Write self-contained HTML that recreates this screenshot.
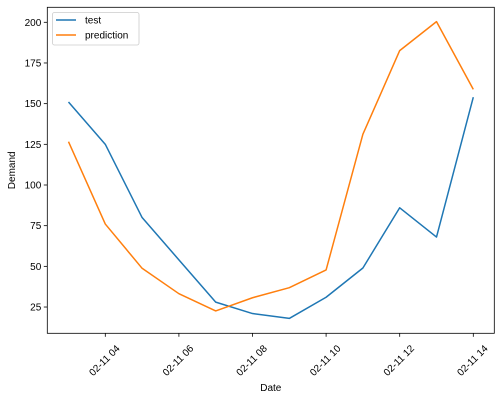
<!DOCTYPE html>
<html><head><meta charset="utf-8"><style>
body{margin:0;background:#fff;}
svg{display:block;font-family:"Liberation Sans","DejaVu Sans",sans-serif;}
</style></head><body>
<svg id="chart" width="500" height="400" viewBox="0 0 500 400"></svg>
<script>
const hours = [3,4,5,6,7,8,9,10,11,12,13,14];
const testValues = [151,125,80,54,28,21,18,31,49,86,68,154];
const predictionValues = [126.6,76,48.8,33.2,22.6,30.7,36.9,47.8,131.2,182.6,200.4,158.8];
const yTicks = [25,50,75,100,125,150,175,200];
const xTicks = [4,6,8,10,12,14];
const seriesNames = ["test","prediction"];

const NS="http://www.w3.org/2000/svg";
const svg=document.getElementById('chart');
const L=47.3,R=494.3,T=7.3,B=333.3;
const xScale=h=>105.3+(h-4)*36.8;
const yScale=v=>22.3+(200-v)*1.627;
function mk(tag,attrs,parent){const e=document.createElementNS(NS,tag);for(const k in attrs)e.setAttribute(k,attrs[k]);(parent||svg).appendChild(e);return e;}

const frame=mk('rect',{x:L,y:T,width:R-L,height:B-T,fill:'none',stroke:'#000','stroke-width':0.8});



yTicks.forEach(v=>{
  const y=yScale(v);
  const t=mk('line',{x1:L-3.5,x2:L,y1:y,y2:y,stroke:'#000','stroke-width':0.8});
  
  
  const tx=mk('text',{x:L-6,y:y+3.5,'font-size':10,'text-anchor':'end',fill:'#000'});
  tx.textContent=v;
  
  
});
xTicks.forEach(h=>{
  const x=xScale(h);
  const t=mk('line',{x1:x,x2:x,y1:B,y2:B+3.5,stroke:'#000','stroke-width':0.8});
  
  
  const tx=mk('text',{x:0,y:3.5,'font-size':10,'text-anchor':'middle',fill:'#000',transform:`translate(${x-1},${B+27}) rotate(-45)`});
  tx.textContent='02-11 '+String(h).padStart(2,'0');
  
  
});

const colors=['#1f77b4','#ff7f0e'];
[testValues,predictionValues].forEach((vals,i)=>{
  const p=mk('polyline',{points:vals.map((v,j)=>xScale(hours[j])+','+yScale(v)).join(' '),fill:'none',stroke:colors[i],'stroke-width':1.5,'stroke-linejoin':'round'});
  
  
});

const xl=mk('text',{x:(L+R)/2,y:391,'font-size':10,'text-anchor':'middle'});
xl.textContent='Date';


const yl=mk('text',{x:0,y:0,'font-size':10,'text-anchor':'middle',transform:`translate(15,${(T+B)/2}) rotate(-90)`});
yl.textContent='Demand';



const lg=mk('g',{});


mk('rect',{x:52.5,y:12.5,width:86.5,height:32.5,rx:2,fill:'#fff',stroke:'#ccc','stroke-width':0.8},lg);
seriesNames.forEach((n,i)=>{
  const y=20+i*15;
  const ln=mk('line',{x1:56,x2:76,y1:y,y2:y,stroke:colors[i],'stroke-width':1.5},lg);
  
  
  const t=mk('text',{x:85,y:y+3.5,'font-size':10},lg);
  t.textContent=n;
  
  
});
</script>
</body></html>
